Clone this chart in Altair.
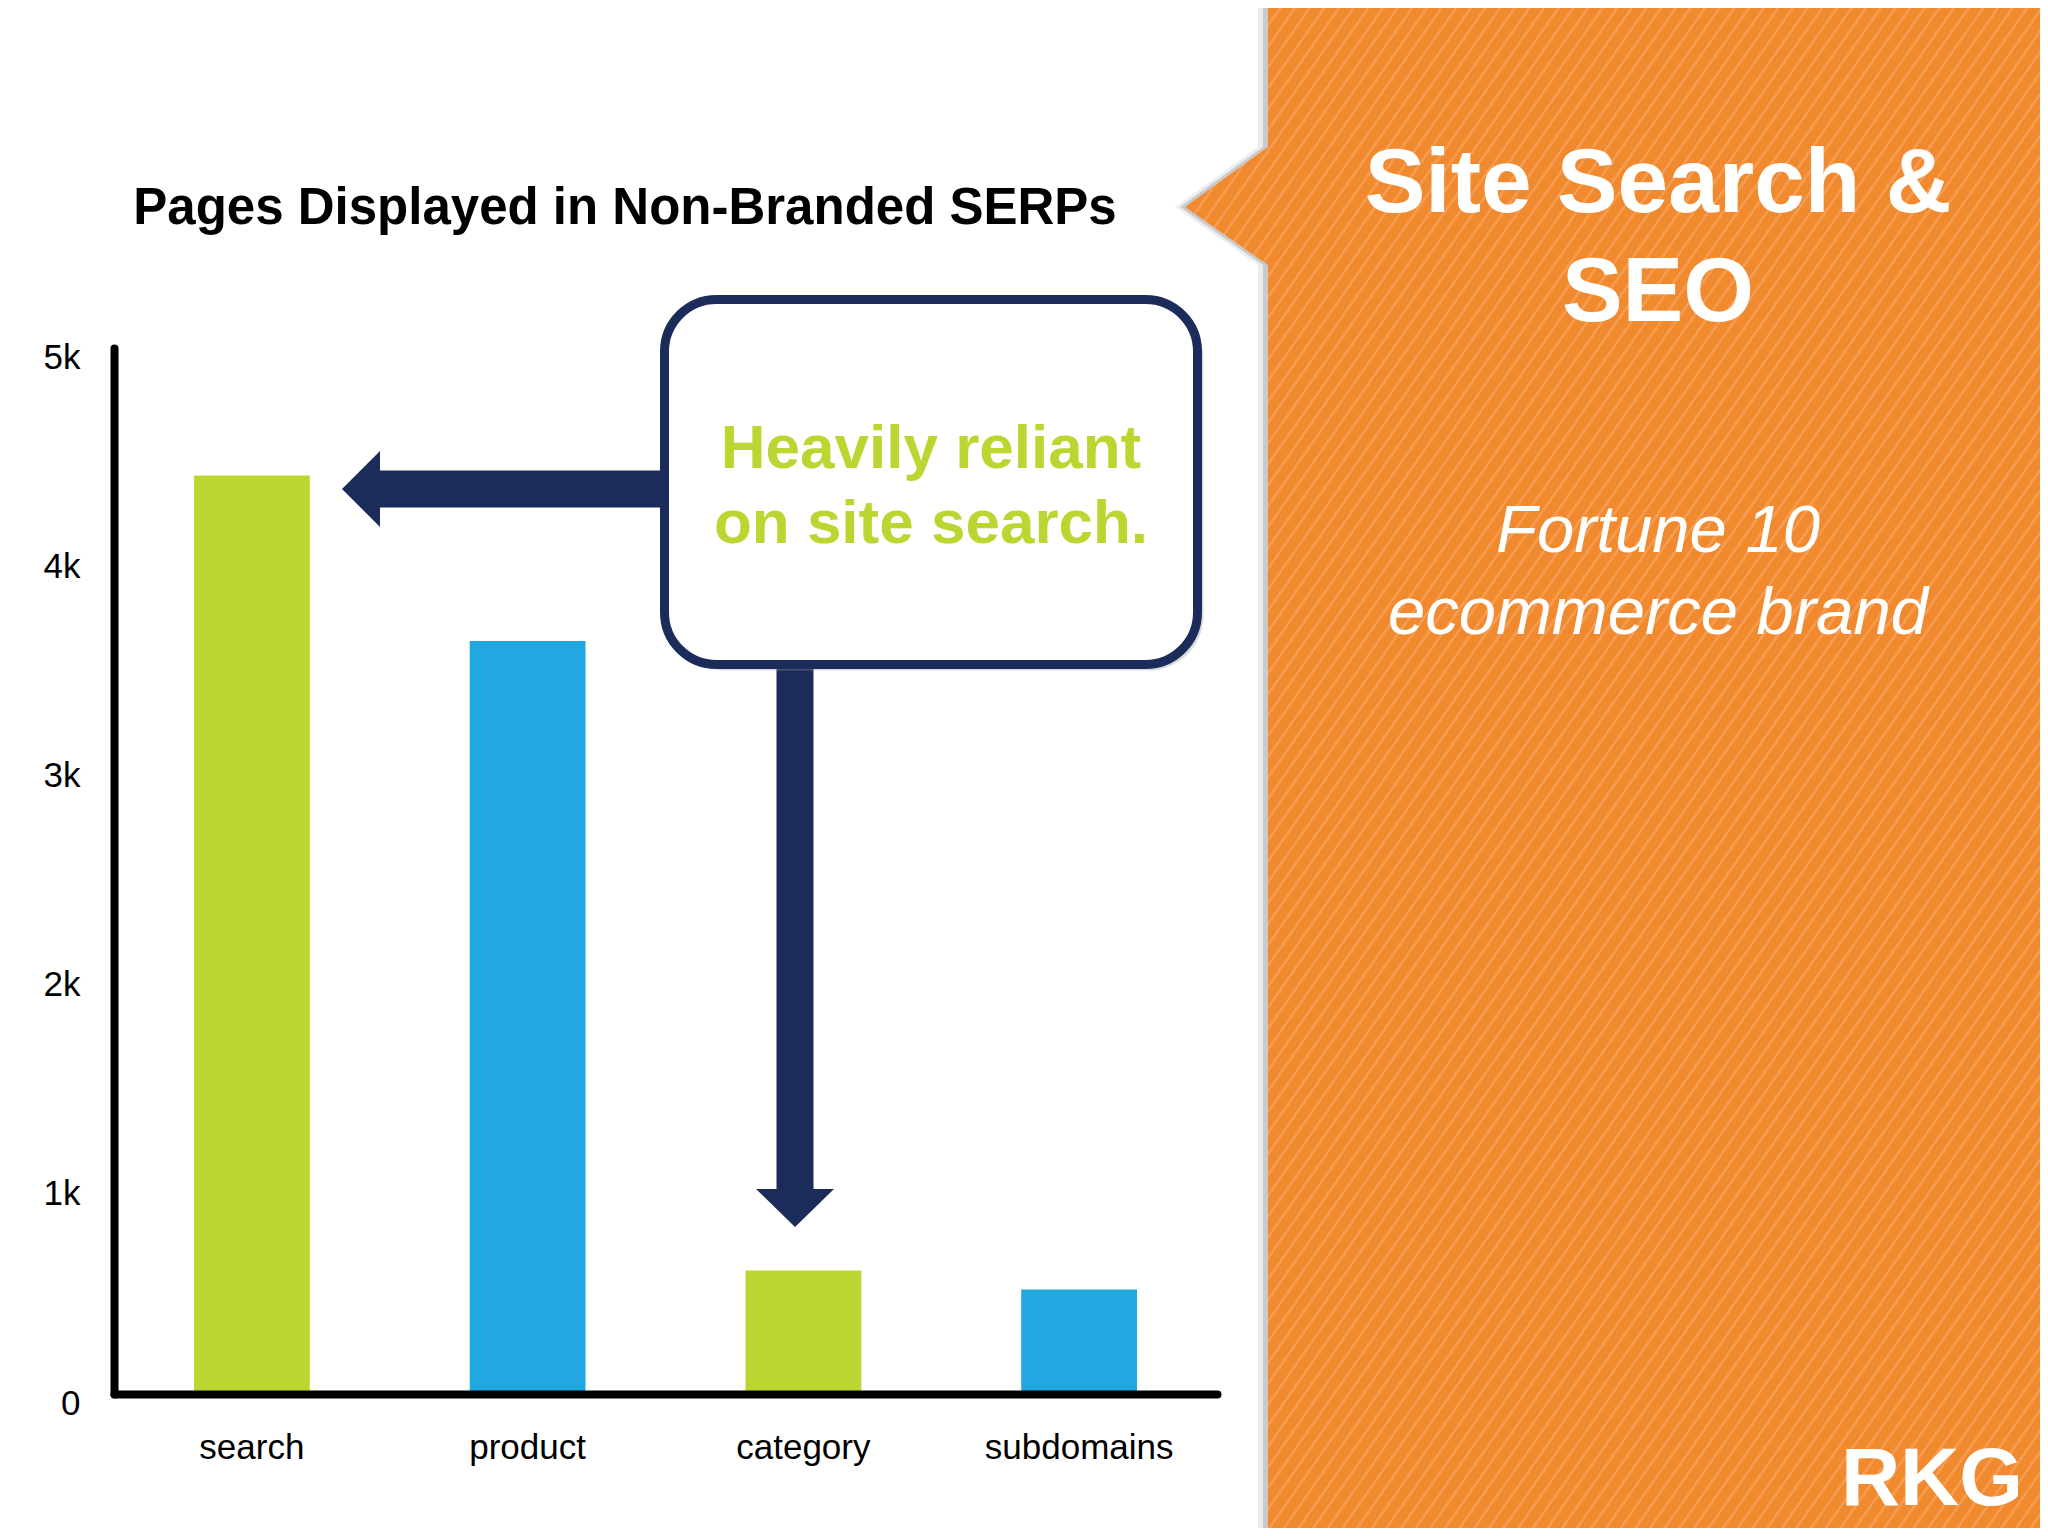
import altair as alt
import pandas as pd

# ---------------- data ----------------
categories = ["search", "product", "category", "subdomains"]
values = [4390, 3600, 590, 500]
bar_colors = ["#bcd631", "#22a8e0", "#bcd631", "#22a8e0"]
y_ticks = [0, 1000, 2000, 3000, 4000, 5000]

title_text = "Pages Displayed in Non-Branded SERPs"
callout_lines = ["Heavily reliant", "on site search."]
panel_title = ["Site Search &", "SEO"]
panel_sub = ["Fortune 10", "ecommerce brand"]
logo_text = "RKG"

df = pd.DataFrame({"category": categories, "value": values, "color": bar_colors})
one = pd.DataFrame({"k": [0]})

# ---------------- layout (page pixels) ----------------
LEFT, TOP = 114, 348          # view origin on the page
W, H = 1103, 1046             # plot area
PAD = {"left": LEFT - 8, "top": TOP - 8,
       "right": 2032 - (LEFT - 8) - W, "bottom": 1520 - (TOP - 8) - H}


def vx(X):
    return X - LEFT


def vy(Y):
    return Y - TOP


FONT = "Liberation Sans"
NAVY = "#1c2c5a"

# ---------------- orange panel (custom symbol) ----------------
PU = 768.0                       # path unit in px
PCX, PCY = 1616.5, 768.0         # symbol centre


def n(X, Y):
    return f"{(X - PCX) / PU:.4f} {(Y - PCY) / PU:.4f}"


panel_pts = [(1268, 0), (2100, 0), (2100, 1536), (1268, 1536),
             (1268, 265), (1185, 207), (1268, 147)]
panel_path = "M " + " L ".join(n(*p) for p in panel_pts) + " Z"

# diagonal stripe texture as gradient
bw = 2100 - 1185
bh = 1536
period = 12.0
sx, sy = 0.819, 0.574
fx = sx * bw / period
fy = sy * bh / period
fmax = fx + fy
ax_, ay_ = fx / fmax, fy / fmax
a2 = ax_ ** 2 + ay_ ** 2
gx2, gy2 = ax_ / a2, ay_ / a2
nstripes = int(fmax) + 1
base_c, light_c = "#f1892f", "#f59c50"
stops = []
for i in range(nstripes):
    o0 = i / nstripes
    o1 = (i + 0.78) / nstripes
    o2 = (i + 1) / nstripes
    stops += [alt.GradientStop(color=base_c, offset=o0),
              alt.GradientStop(color=base_c, offset=o1),
              alt.GradientStop(color=light_c, offset=o1),
              alt.GradientStop(color=light_c, offset=min(o2, 1.0))]
grad = alt.LinearGradient(gradient="linear", stops=stops, x1=0, y1=0, x2=gx2, y2=gy2)


def symbol(path, cx, cy, unit, **kw):
    return alt.Chart(one).mark_point(shape=path, size=(2 * unit) ** 2, filled=True,
                                     strokeWidth=0, **kw).encode(
        x=alt.value(vx(cx)), y=alt.value(vy(cy)))


panel_shadow1 = symbol(panel_path, PCX - 10, PCY, PU, color="#9a9a9a", opacity=0.18)
panel_shadow2 = symbol(panel_path, PCX - 5, PCY, PU, color="#8a8a8a", opacity=0.35)
panel = symbol(panel_path, PCX, PCY, PU, fill=grad, opacity=1)

# ---------------- arrows ----------------
left_arrow_path = ("M 0 0 L 0.38 -0.38 L 0.38 -0.185 L 3.3 -0.185 L 3.3 0.185 "
                   "L 0.38 0.185 L 0.38 0.38 Z")
down_arrow_path = ("M 0 0 L -0.39 -0.38 L -0.185 -0.38 L -0.185 -5.7 L 0.185 -5.7 "
                   "L 0.185 -0.38 L 0.39 -0.38 Z")
left_arrow = symbol(left_arrow_path, 342, 489, 100, color=NAVY, opacity=1)
down_arrow = symbol(down_arrow_path, 795, 1227, 100, color=NAVY, opacity=1)

# ---------------- callout box ----------------
box_shadow = alt.Chart(one).mark_rect(cornerRadius=55, color="#9a9a9a", opacity=0.35).encode(
    x=alt.value(vx(664.5 + 5)), x2=alt.value(vx(1197.5 + 6)),
    y=alt.value(vy(299.5 + 5)), y2=alt.value(vy(664.5 + 6)))
box = alt.Chart(one).mark_rect(cornerRadius=52, fill="white", stroke=NAVY, strokeWidth=9,
                               opacity=1).encode(
    x=alt.value(vx(664.5)), x2=alt.value(vx(1197.5)),
    y=alt.value(vy(299.5)), y2=alt.value(vy(664.5)))


def label(text, X, Y, size, color, weight="bold", style="normal", align="center"):
    return alt.Chart(one).mark_text(text=text, font=FONT, fontSize=size, fontWeight=weight,
                                    fontStyle=style, color=color, align=align,
                                    baseline="alphabetic").encode(
        x=alt.value(vx(X)), y=alt.value(vy(Y)))


texts = [
    label(title_text, 625, 224, 51, "black"),
    label(callout_lines[0], 931, 468, 62, "#bcd631"),
    label(callout_lines[1], 931, 543, 62, "#bcd631"),
    label(panel_title[0], 1658, 212, 91, "white"),
    label(panel_title[1], 1658, 321, 91, "white"),
    label(panel_sub[0], 1658, 552, 67, "white", weight="normal", style="italic"),
    label(panel_sub[1], 1658, 634, 67, "white", weight="normal", style="italic"),
    label(logo_text, 1932, 1505, 82, "white"),
]

# ---------------- bars ----------------
bars = alt.Chart(df).mark_bar().encode(
    x=alt.X("category:N", sort=categories,
            scale=alt.Scale(paddingInner=0.58, paddingOuter=0.29),
            axis=alt.Axis(title=None, domainColor="black", domainWidth=8, domainCap="round",
                          ticks=False, tickSize=0, grid=False, labelAngle=0, labelLimit=0,
                          labelFont=FONT, labelFontSize=35, labelColor="black",
                          labelPadding=36, zindex=1)),
    y=alt.Y("value:Q", scale=alt.Scale(domain=[0, 5000], nice=False),
            axis=alt.Axis(title=None, values=y_ticks,
                          labelExpr="datum.value == 0 ? '0' : (datum.value / 1000) + 'k'",
                          domainColor="black", domainWidth=8, domainCap="round",
                          ticks=False, tickSize=0, grid=False,
                          labelFont=FONT, labelFontSize=35, labelColor="black",
                          labelPadding=34, labelOffset=9, zindex=1)),
    color=alt.Color("color:N", scale=None),
)

chart = alt.layer(
    panel_shadow1, panel_shadow2, panel, bars, left_arrow, down_arrow,
    box_shadow, box, *texts
).properties(
    width=W, height=H, padding=PAD,
    autosize=alt.AutoSizeParams(type="none"),
    background="white",
).configure_view(strokeWidth=0)

chart.save("out.html", embed_options={"renderer": "svg", "actions": False})
